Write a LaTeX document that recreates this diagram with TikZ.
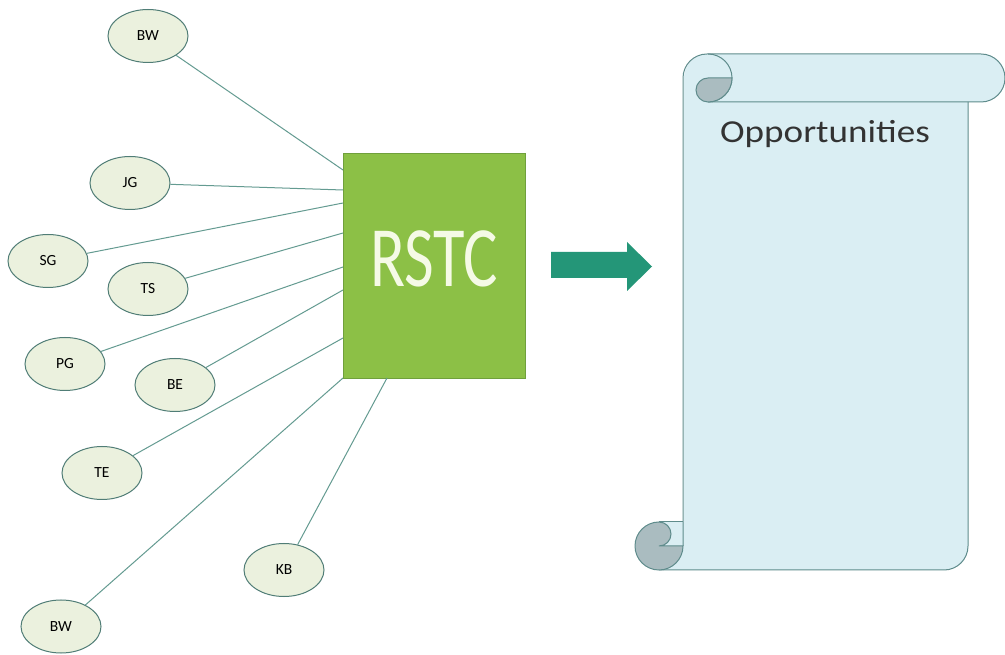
\documentclass[tikz,border=0pt]{standalone}
\usepackage{fontspec}
\usepackage{graphicx}
\setmainfont{Carlito}
\usetikzlibrary{shapes.geometric}
\definecolor{ellfill}{RGB}{235,241,222}
\definecolor{ellline}{RGB}{80,125,118}
\definecolor{conn}{RGB}{100,155,145}
\definecolor{boxfill}{RGB}{140,192,70}
\definecolor{boxline}{RGB}{112,160,60}
\definecolor{arrowfill}{RGB}{36,150,120}
\definecolor{scrollfill}{RGB}{218,238,243}
\definecolor{scrollline}{RGB}{95,140,140}
\definecolor{curlfill}{RGB}{170,188,192}
\definecolor{rstctext}{RGB}{245,250,230}
\tikzset{
  person/.style={ellipse, draw=ellline, line width=1pt, fill=ellfill,
    minimum width=80pt, minimum height=53pt, inner sep=0pt,
    font=\fontsize{15.5}{15.5}\selectfont},
  link/.style={draw=conn, line width=1pt},
  hub/.style={rectangle, draw=boxline, line width=0.8pt, fill=boxfill,
    minimum width=182pt, minimum height=225pt, inner sep=0pt},
  scrl/.style={draw=scrollline, line width=1pt},
}
\begin{document}
\begin{tikzpicture}[x=1pt,y=1pt]
\useasboundingbox (0,0) rectangle (1005,654);
\fill[white] (0,0) rectangle (1005,654);

% hub
\node[hub] (rstc) at (434,388.5) {};
\node[anchor=base, text=rstctext, inner sep=0pt] (rstclabel) at (434,367)
  {\scalebox{0.75}[1]{\fontsize{86}{86}\selectfont RSTC}};

% connection points on hub
\coordinate (p1) at (343,484);
\coordinate (p2) at (343,464);
\coordinate (p3) at (343,451);
\coordinate (p4) at (343,421);
\coordinate (p5) at (343,387);
\coordinate (p6) at (343,364);
\coordinate (p7) at (343,316);
\coordinate (p8) at (343,276);
\coordinate (p9) at (387,276);

% people
\node[person] (bwa) at (148,618) {BW};
\node[person] (jg) at (130,471) {JG};
\node[person] (sg) at (48,393) {SG};
\node[person] (ts) at (148,365) {TS};
\node[person] (pg) at (65,290) {PG};
\node[person] (be) at (175,269) {BE};
\node[person] (te) at (102,181) {TE};
\node[person] (kb) at (284,84) {KB};
\node[person] (bwb) at (61,27.5) {BW};

\draw[link] (bwa) -- (p1);
\draw[link] (jg) -- (p2);
\draw[link] (sg) -- (p3);
\draw[link] (ts) -- (p4);
\draw[link] (pg) -- (p5);
\draw[link] (be) -- (p6);
\draw[link] (te) -- (p7);
\draw[link] (bwb) -- (p8);
\draw[link] (kb) -- (p9);

% arrow
\fill[arrowfill] (551,402) -- (627,402) -- (627,412) -- (652,387.5) -- (627,363)
  -- (627,376) -- (551,376) -- cycle;

% scroll fill
\fill[scrollfill] (659,84) -- (944,84) arc[start angle=-90,end angle=0,radius=24]
  -- (968,552) -- (981,552) arc[start angle=-90,end angle=90,radius=24]
  -- (708,600) arc[start angle=90,end angle=180,radius=24]
  -- (684,132) -- (659,132) -- cycle;
% scroll outlines
\draw[scrl] (683,108) -- (683,576) arc[start angle=180,end angle=90,radius=24]
  -- (981,600) arc[start angle=90,end angle=-90,radius=24] -- (708,552);
\draw[scrl] (708,600) arc[start angle=90,end angle=-90,radius=24];
\draw[scrl, fill=curlfill] (708,576) -- (732,576) arc[start angle=0,end angle=-90,radius=24]
  arc[start angle=-90,end angle=-270,radius=12] -- cycle;
\draw[scrl] (968,552) -- (968,108) arc[start angle=0,end angle=-90,radius=24] -- (659,84);
\draw[scrl, fill=curlfill] (659,108) -- (683,108) arc[start angle=0,end angle=-270,radius=24]
  arc[start angle=90,end angle=-90,radius=12] -- cycle;
\draw[scrl] (659,132) -- (683,132);

\node[anchor=base, inner sep=0pt, text=black!80] (opp) at (825,511)
  {\scalebox{1.16}[1]{\fontsize{32}{32}\selectfont Opportunities}};
\end{tikzpicture}
\end{document}
